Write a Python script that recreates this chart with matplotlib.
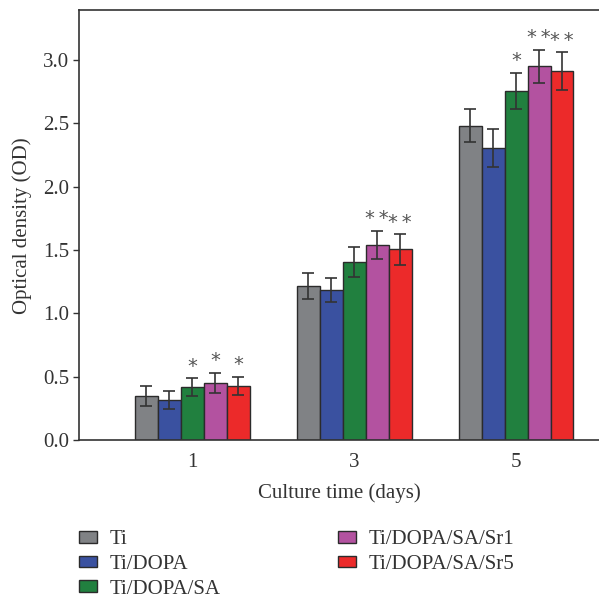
import matplotlib
matplotlib.use("Agg")
from matplotlib import rcParams
rcParams['font.family'] = ['Liberation Serif', 'DejaVu Serif']
import matplotlib.pyplot as plt
import numpy as np

# data
days = ["1", "3", "5"]
groups = ["Ti", "Ti/DOPA", "Ti/DOPA/SA", "Ti/DOPA/SA/Sr1", "Ti/DOPA/SA/Sr5"]
colors = ["#808285", "#3a51a0", "#21803f", "#b352a0", "#ec2a2a"]

ti = [0.35, 1.215, 2.48]
dopa = [0.32, 1.185, 2.30]
sa = [0.42, 1.405, 2.755]
sr1 = [0.45, 1.54, 2.947]
sr5 = [0.43, 1.505, 2.908]
means = [ti, dopa, sa, sr1, sr5]

ti_err = [0.08, 0.10, 0.13]
dopa_err = [0.07, 0.095, 0.15]
sa_err = [0.07, 0.12, 0.14]
sr1_err = [0.08, 0.11, 0.13]
sr5_err = [0.07, 0.12, 0.15]
errs = [ti_err, dopa_err, sa_err, sr1_err, sr5_err]

# significance marks, per group per day
stars = [["", "", ""],
         ["", "", ""],
         ["*", "", "*"],
         ["*", "**", "**"],
         ["*", "**", "**"]]

text_c = "#333333"
fs = 15
fig = plt.figure(figsize=(5.99, 5.99), dpi=100)
ax = fig.add_axes([0.132, 0.265, 0.87, 0.718])

x = np.arange(len(days))
w = 0.142
for i in range(len(groups)):
    pos = x + (i - 2) * w
    ax.bar(pos, means[i], w, color=colors[i], edgecolor="#2b2b2b", linewidth=1.0,
           label=groups[i], zorder=2)
    ax.errorbar(pos, means[i], yerr=errs[i], fmt="none", ecolor="#333333",
                elinewidth=1.2, capsize=4, capthick=1.2, zorder=3)
    for j in range(len(days)):
        s = stars[i][j]
        if s:
            s = "\u2009".join(s)
            ax.text(pos[j], means[i][j] + errs[i][j] + 0.02, s, ha="center", va="bottom",
                    fontsize=14, color="#555555", family="DejaVu Sans")

ax.set_xlim(-0.70, 2.52)
ax.set_ylim(0, 3.39)
ax.set_xticks(x)
ax.set_xticklabels(days)
ax.set_yticks(np.arange(0, 3.01, 0.5))
ax.set_yticklabels(["%.1f" % v for v in np.arange(0, 3.01, 0.5)])
ax.tick_params(axis="y", direction="out", length=4, width=1, pad=3, colors=text_c, labelsize=fs)
ax.tick_params(axis="x", length=0, pad=9, colors=text_c, labelsize=fs)
for sp in ["left", "bottom", "top"]:
    ax.spines[sp].set_color("#333333")
    ax.spines[sp].set_linewidth(1.2)
ax.spines["right"].set_visible(False)
ax.set_xlabel("Culture time (days)", fontsize=fs, color=text_c, labelpad=8)
ax.set_ylabel("Optical density (OD)", fontsize=fs, color=text_c, labelpad=8)

fig.legend(loc="upper left", bbox_to_anchor=(0.118, 0.129), ncol=2, frameon=False,
           fontsize=fs, handlelength=0.87, handleheight=0.5, handletextpad=0.62,
           columnspacing=5.6, labelspacing=0.28, borderaxespad=0)
for t in fig.legends[0].get_texts():
    t.set_color(text_c)

fig.savefig("out.png", dpi=100)
